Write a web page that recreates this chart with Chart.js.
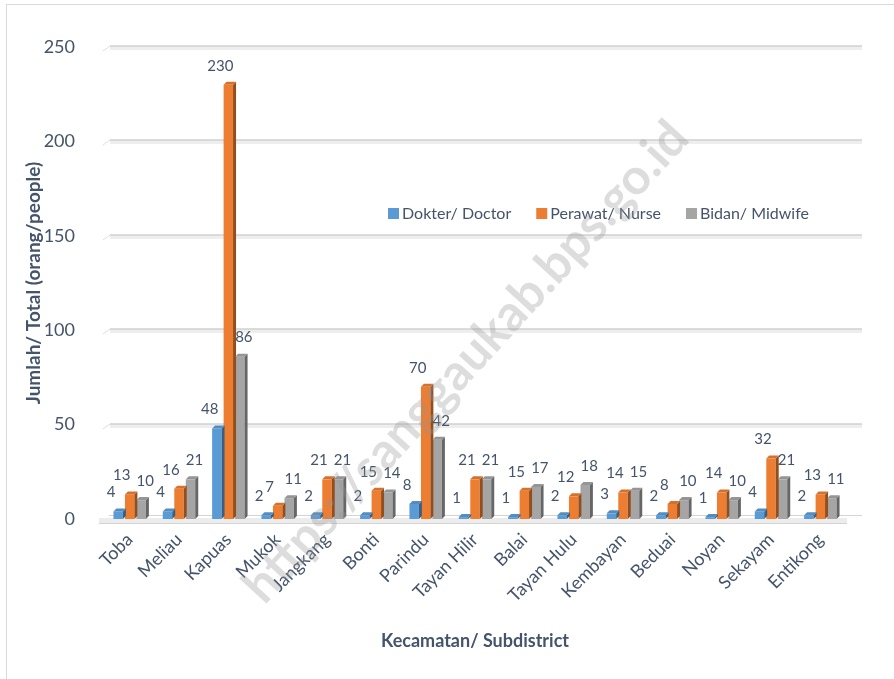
<!DOCTYPE html>
<html>
<head>
<title>Tenaga Kesehatan per Kecamatan</title>
<script src="https://cdn.jsdelivr.net/npm/chart.js"></script>
<style>body{margin:0;background:#fff}</style>
</head>
<body>
<canvas id="chart" width="894" height="679"></canvas>
<script>
const kecamatan = ['Toba','Meliau','Kapuas','Mukok','Jangkang','Bonti','Parindu','Tayan Hilir','Balai','Tayan Hulu','Kembayan','Beduai','Noyan','Sekayam','Entikong'];
const dokter  = [4, 4, 48, 2, 2, 2, 8, 1, 1, 2, 3, 2, 1, 4, 2];
const perawat = [13, 16, 230, 7, 21, 15, 70, 21, 15, 12, 14, 8, 14, 32, 13];
const bidan   = [10, 21, 86, 11, 21, 14, 42, 21, 17, 18, 15, 10, 10, 21, 11];
const yTicks  = [0, 50, 100, 150, 200, 250];
const seriesNames = ['Dokter/ Doctor', 'Perawat/ Nurse', 'Bidan/ Midwife'];

const TXT = '#44546a';
const FONT = 'Lato, "Open Sans", sans-serif';
Chart.defaults.font.family = FONT;

// darker shade of a hex colour for the 3D side faces
function shade(hex, f) {
  const n = parseInt(hex.slice(1), 16);
  const r = Math.round(((n >> 16) & 255) * f), g = Math.round(((n >> 8) & 255) * f), b = Math.round((n & 255) * f);
  return 'rgb(' + r + ',' + g + ',' + b + ')';
}

const frame = {
  id: 'frame',
  beforeDraw(chart) {
    const c = chart.ctx;
    c.save();
    c.strokeStyle = '#d9d9d9';
    c.lineWidth = 1;
    c.strokeRect(6.5, 4.5, 1000, 1000);
    c.restore();
  }
};

const wall = {
  id: 'wall',
  beforeDatasetsDraw(chart) {
    const c = chart.ctx, a = chart.chartArea, y = chart.scales.y;
    c.save();
    yTicks.forEach(v => {
      const py = Math.round(y.getPixelForValue(v));
      if (v === 0) {
        c.fillStyle = '#ececec';
        c.fillRect(a.left - 6, py - 1, a.right - a.left + 8, 5);
        c.strokeStyle = '#d4d4d4';
        c.lineWidth = 1;
        c.beginPath(); c.moveTo(a.left - 6, py + 4.5); c.lineTo(a.right + 2, py + 4.5); c.stroke();
        c.beginPath(); c.moveTo(a.left + 4, py - 3.5); c.lineTo(a.right + 17, py - 3.5); c.stroke();
        return;
      }
      c.fillStyle = '#eeeeee';
      c.fillRect(a.left + 5, py - 1, a.right - a.left + 12, 4);
      c.strokeStyle = '#d0d0d0';
      c.lineWidth = 1.5;
      c.beginPath(); c.moveTo(a.left + 5, py - 1); c.lineTo(a.right + 17, py - 1); c.stroke();
      c.strokeStyle = '#dedede';
      c.lineWidth = 1;
      c.beginPath(); c.moveTo(a.left - 2, py + 4); c.lineTo(a.left + 5, py - 1); c.stroke();
    });
    c.restore();
  }
};

// label nudge per series, so neighbouring numbers don't collide
const labelShift = [-7, -8, 4];

const bars3d = {
  id: 'bars3d',
  afterDatasetsDraw(chart) {
    const c = chart.ctx, d = 3;
    c.save();
    chart.data.datasets.forEach((ds, i) => {
      chart.getDatasetMeta(i).data.forEach(bar => {
        const l = bar.x - bar.width / 2, r = bar.x + bar.width / 2, t = bar.y, b = bar.base;
        c.fillStyle = shade(ds.backgroundColor, 0.62);
        c.beginPath(); c.moveTo(r, t); c.lineTo(r + d, t - d); c.lineTo(r + d, b - d); c.lineTo(r, b); c.closePath(); c.fill();
        c.fillStyle = shade(ds.backgroundColor, 0.9);
        c.beginPath(); c.moveTo(l, t); c.lineTo(l + d, t - d); c.lineTo(r + d, t - d); c.lineTo(r, t); c.closePath(); c.fill();
      });
    });
    // value labels
    c.fillStyle = TXT;
    c.font = '15px ' + FONT;
    c.textAlign = 'center';
    c.textBaseline = 'middle';
    chart.data.datasets.forEach((ds, i) => {
      chart.getDatasetMeta(i).data.forEach((bar, j) => {
        c.fillText(String(ds.data[j]), bar.x + labelShift[i], bar.y - 19);
      });
    });
    c.restore();
  }
};

const legendIn = {
  id: 'legendIn',
  afterDraw(chart) {
    const c = chart.ctx;
    c.save();
    c.font = '16px ' + FONT;
    c.textBaseline = 'middle';
    let x = 388;
    const y = 214;
    chart.data.datasets.forEach(ds => {
      c.fillStyle = ds.backgroundColor;
      c.fillRect(x, y - 6, 11, 11);
      c.fillStyle = TXT;
      c.fillText(ds.label, x + 14, y);
      x += 14 + c.measureText(ds.label).width + 25;
    });
    c.restore();
  }
};

const watermark = {
  id: 'watermark',
  afterDraw(chart) {
    const c = chart.ctx;
    c.save();
    c.translate(466, 362);
    c.rotate(-47.5 * Math.PI / 180);
    c.font = 'bold 50px ' + FONT;
    c.fillStyle = 'rgba(150,150,150,0.32)';
    c.textAlign = 'center';
    c.textBaseline = 'middle';
    c.fillText('https://sanggaukab.bps.go.id', 0, 0);
    c.restore();
  }
};

new Chart(document.getElementById('chart').getContext('2d'), {
  type: 'bar',
  data: {
    labels: kecamatan,
    datasets: [
      { label: seriesNames[0], data: dokter, backgroundColor: '#5b9bd5' },
      { label: seriesNames[1], data: perawat, backgroundColor: '#ed7d31' },
      { label: seriesNames[2], data: bidan, backgroundColor: '#a5a5a5' }
    ]
  },
  options: {
    responsive: false,
    animation: false,
    categoryPercentage: 0.7,
    barPercentage: 0.82,
    layout: { padding: { top: 47, right: 49, bottom: 25, left: 20 } },
    plugins: { legend: { display: false }, tooltip: { enabled: false } },
    scales: {
      x: {
        grid: { display: false },
        border: { display: false },
        ticks: { color: TXT, font: { size: 18 }, minRotation: 45, maxRotation: 45, padding: 2 },
        title: { display: true, text: 'Kecamatan/ Subdistrict', color: TXT, font: { size: 18, weight: 'bold' }, padding: { top: 4, bottom: 2 } },
        afterFit(s) { s.height = 135; }
      },
      y: {
        min: 0, max: 250,
        grid: { display: false },
        border: { display: false },
        afterBuildTicks(s) { s.ticks = yTicks.map(v => ({ value: v })); },
        ticks: { color: TXT, font: { size: 18 }, padding: 22 },
        title: { display: true, text: 'Jumlah/ Total (orang/people)', color: TXT, font: { size: 19, weight: 'bold' }, padding: { top: 2, bottom: 4 } },
        afterFit(s) { s.width = 85; }
      }
    }
  },
  plugins: [frame, wall, bars3d, legendIn, watermark]
});
</script>
</body>
</html>
